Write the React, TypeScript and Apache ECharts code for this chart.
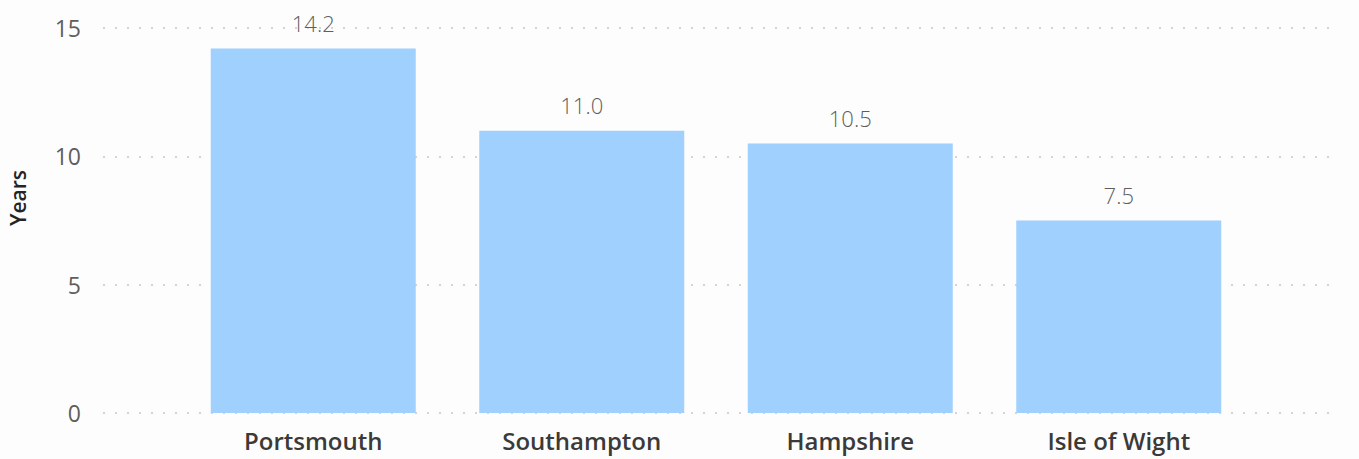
import React, { useEffect, useRef } from "react";
import * as echarts from "echarts";

const categories = ["Portsmouth", "Southampton", "Hampshire", "Isle of Wight"];
const values = [14.2, 11.0, 10.5, 7.5];
const yTicks = [0, 5, 10, 15];
const yAxisTitle = "Years";

export default function App() {
  const ref = useRef<HTMLDivElement>(null);
  useEffect(() => {
    document.body.style.margin = "0";
    const chart = echarts.init(ref.current!, null, { renderer: "svg" });
    const yMax = yTicks[yTicks.length - 1];
    chart.setOption({
      animation: false,
      backgroundColor: "#fdfdfd",
      grid: [
        { left: 103, width: 1232, top: 28, height: 385 },
        { left: 179, width: 1074, top: 28, height: 385 },
      ],
      graphic: [
        {
          type: "text",
          x: 18,
          y: 198,
          rotation: Math.PI / 2,
          style: {
            text: yAxisTitle,
            fill: "#252423",
            font: "600 21px 'Open Sans'",
            textAlign: "center",
            textVerticalAlign: "middle",
          },
        },
      ],
      xAxis: [
        { type: "category", gridIndex: 0, data: categories, show: false },
        {
          type: "category",
          gridIndex: 1,
          data: categories,
          axisLine: { show: false },
          axisTick: { show: false },
          axisLabel: {
            margin: 15,
            color: "#3b3a39",
            fontFamily: "Open Sans",
            fontWeight: 600,
            fontSize: 24,
          },
        },
      ],
      yAxis: [
        {
          type: "value",
          gridIndex: 0,
          min: 0,
          max: yMax,
          interval: 5,
          axisLine: { show: false },
          axisTick: { show: false },
          axisLabel: {
            margin: 22,
            color: "#605e5c",
            fontFamily: "Open Sans",
            fontSize: 23,
          },
          splitLine: {
            show: true,
            lineStyle: { color: "#c8c6c4", width: 1.5, type: [2, 10] },
          },
        },
        {
          type: "value",
          gridIndex: 1,
          min: 0,
          max: yMax,
          interval: 5,
          show: false,
          splitLine: { show: false },
        },
      ],
      series: [
        {
          type: "bar",
          xAxisIndex: 1,
          yAxisIndex: 1,
          data: values,
          barWidth: 205,
          itemStyle: { color: "#a0d0fe" },
          label: {
            show: true,
            position: "top",
            distance: 15,
            formatter: (p: any) => Number(p.value).toFixed(1),
            color: "#605e5c",
            fontFamily: "Open Sans",
            fontWeight: 300,
            fontSize: 22,
          },
        },
      ],
    });
    return () => chart.dispose();
  }, []);
  return <div ref={ref} style={{ width: 1359, height: 459 }} />;
}
